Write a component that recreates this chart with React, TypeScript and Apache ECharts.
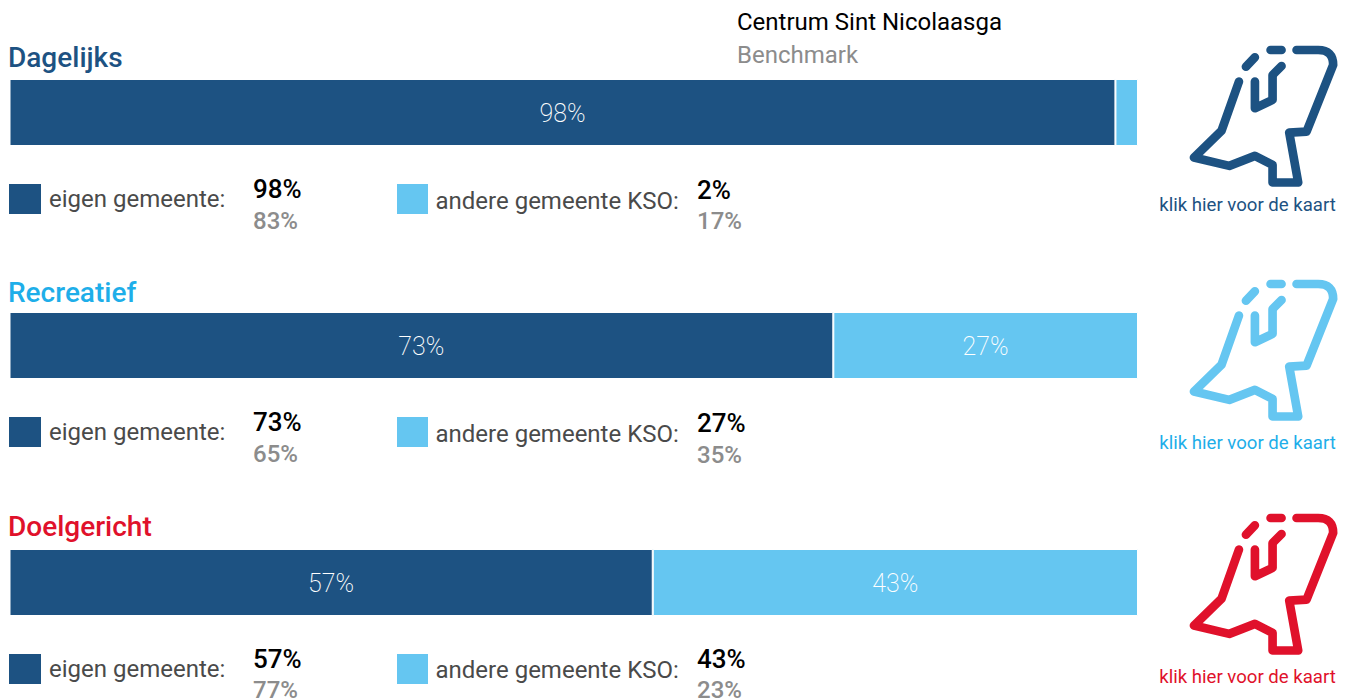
import React, { useEffect, useRef } from "react";
import * as echarts from "echarts";

const titles = ["Dagelijks", "Recreatief", "Doelgericht"];
const own = [98, 73, 57];
const other = [2, 27, 43];
const ownBenchmark = [83, 65, 77];
const otherBenchmark = [17, 35, 23];
const ownLabel = "eigen gemeente:";
const otherLabel = "andere gemeente KSO:";
const mapLabel = "klik hier voor de kaart";
const headerMain = "Centrum Sint Nicolaasga";
const headerBenchmark = "Benchmark";

const DARK = "#1d5282";
const LIGHT = "#65c6f1";
const titleColors = [DARK, "#1eaee9", "#e0112b"];
const iconColors = [DARK, LIGHT, "#e0112b"];
const linkColors = [DARK, "#1eaee9", "#e0112b"];
const FONT = "Roboto";

const barTops = [79, 312, 549];
const titleY = [57, 292, 526];
const legendTop = [184, 417, 654];
const ownLegendY = [199, 432, 669];
const otherLegendY = [201, 434, 670];
const val1Y = [189, 422, 659];
const val2Y = [221, 453.5, 690];
const otherVal1Y = [190, 423, 659];
const otherVal2Y = [221, 454.5, 690];
const iconY = [30, 264, 498];
const linkY = [205, 443, 677];

const mapPath =
  "M380 60 L445 60 Q490 60 490 105 L410 305 L358 308 L385 458 L308 458 L308 405 L255 378 L178 408 L72 383 L155 302 L207 155 " +
  "M255 155 L255 235 L308 210 L308 135 L335 108 M228 110 L255 82 M302 60 L335 60";

echarts.graphic.registerShape("nlmap", echarts.graphic.extendPath(mapPath, {}));

export default function App() {
  const ref = useRef<HTMLDivElement>(null);
  useEffect(() => {
    const chart = echarts.init(ref.current!, null, { renderer: "svg" });
    const text = (t: string, x: number, y: number, fill: string, size: number, weight: number | string = 400, align = "left") => ({
      type: "text",
      x,
      y,
      silent: true,
      style: { text: t, fill, font: `${weight} ${size}px ${FONT}`, textAlign: align, textVerticalAlign: "middle" },
    });
    const graphics: any[] = [
      text(headerMain, 737, 22, "#000000", 24),
      text(headerBenchmark, 737, 55, "#8c8c8c", 24),
    ];
    titles.forEach((t, i) => {
      graphics.push(text(t, 8, titleY[i], titleColors[i], 28, 500));
      graphics.push({ type: "rect", shape: { x: 9, y: legendTop[i], width: 32, height: 30 }, style: { fill: DARK } });
      graphics.push({ type: "rect", shape: { x: 397, y: legendTop[i], width: 31, height: 30 }, style: { fill: LIGHT } });
      graphics.push(text(ownLabel, 49, ownLegendY[i], "#4a4a4a", 24));
      graphics.push(text(otherLabel, 435.5, otherLegendY[i], "#4a4a4a", 24));
      graphics.push(text(`${own[i]}%`, 253, val1Y[i], "#000000", 26, 500));
      graphics.push(text(`${ownBenchmark[i]}%`, 253, val2Y[i], "#8c8c8c", 24, 500));
      graphics.push(text(`${other[i]}%`, 697, otherVal1Y[i], "#000000", 26, 500));
      graphics.push(text(`${otherBenchmark[i]}%`, 697, otherVal2Y[i], "#8c8c8c", 24, 500));
      graphics.push({
        type: "nlmap",
        x: 1170,
        y: iconY[i],
        scaleX: 1 / 3,
        scaleY: 1 / 3,
        silent: true,
        style: { fill: "none", stroke: iconColors[i], lineWidth: 26, lineCap: "round", lineJoin: "round" },
      });
      graphics.push(text(mapLabel, 1247.5, linkY[i], linkColors[i], 18.6, 400, "center"));
    });

    const label = {
      show: true,
      position: "inside" as const,
      offset: [0, 1],
      color: "#ffffff",
      fontFamily: FONT,
      fontWeight: 200 as const,
      fontSize: 25,
      formatter: (p: any) => (p.value >= 5 ? `${p.value}%` : ""),
    };
    chart.setOption({
      animation: false,
      graphic: graphics,
      grid: barTops.map((top) => ({ left: 9.5, top, width: 1128.5, height: 67 })),
      xAxis: titles.map((_, i) => ({ type: "value", gridIndex: i, min: 0, max: 100, show: false })),
      yAxis: titles.map((t, i) => ({ type: "category", gridIndex: i, data: [t], show: false })),
      series: titles.flatMap((_, i) => [
        {
          type: "bar",
          stack: `s${i}`,
          xAxisIndex: i,
          yAxisIndex: i,
          barWidth: "100%",
          data: [own[i]],
          label,
          itemStyle: { color: DARK, borderColor: "#ffffff", borderWidth: 1 },
        },
        {
          type: "bar",
          stack: `s${i}`,
          xAxisIndex: i,
          yAxisIndex: i,
          barWidth: "100%",
          data: [other[i]],
          label,
          itemStyle: { color: LIGHT, borderColor: "#ffffff", borderWidth: 1 },
        },
      ]),
    });
    return () => chart.dispose();
  }, []);
  return <div ref={ref} style={{ position: "absolute", left: 0, top: 0, width: 1348, height: 700, overflow: "hidden" }} />;
}
